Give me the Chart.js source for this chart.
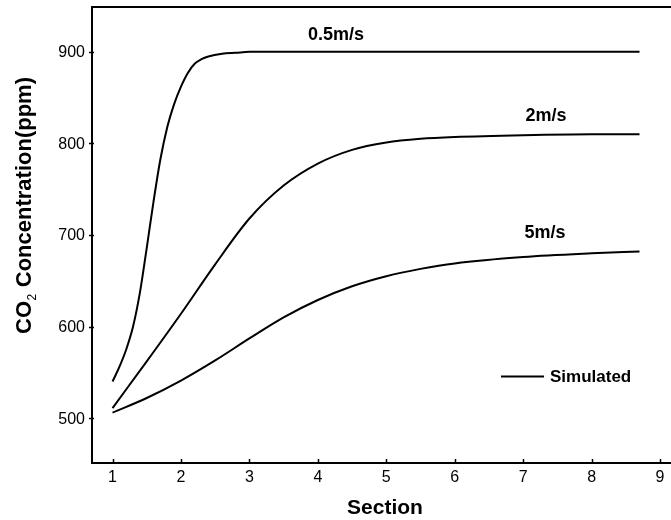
<!DOCTYPE html>
<html>
<head>
<meta charset="utf-8">
<script src="https://cdn.jsdelivr.net/npm/chart.js@4/dist/chart.umd.min.js"></script>
<style>
  html, body { margin: 0; padding: 0; background: #fff; }
  #wrap { width: 671px; height: 520px; position: relative; }
</style>
</head>
<body>
<div id="wrap"><canvas id="c" width="671" height="520"></canvas></div>
<script>
// ---- data ----
const seriesNames = ['0.5m/s', '2m/s', '5m/s'];
const x05 = [1, 1.1, 1.2, 1.3, 1.4, 1.5, 1.6, 1.7, 1.8, 1.9, 2.0, 2.1, 2.2, 2.3, 2.4, 2.6, 2.8, 3.0, 4, 5, 6, 7, 8, 8.7];
const y05 = [540, 556, 575, 600, 637, 686, 737, 783, 818, 843, 862, 877, 887, 892, 895, 898, 899, 900, 900, 900, 900, 900, 900, 900];
const x2 = [1, 1.5, 2, 2.5, 3, 3.5, 4, 4.5, 5, 5.5, 6, 7, 8, 8.7];
const y2 = [511, 562, 614, 668, 718, 754, 778, 793, 801, 805, 807, 809, 810, 810];
const x5 = [1, 1.5, 2, 2.5, 3, 3.5, 4, 4.5, 5, 5.5, 6, 7, 8, 8.7];
const y5 = [506, 522, 541, 563, 587, 610, 629, 644, 655, 663, 669, 676, 680, 682];
const xTicks = [1, 2, 3, 4, 5, 6, 7, 8, 9];
const yTicks = [500, 600, 700, 800, 900];
const legendLabel = 'Simulated';
const xTitle = 'Section';

function pts(xs, ys) { return xs.map((x, i) => ({ x: x, y: ys[i] })); }

const FONT = '"Liberation Sans", Arial, sans-serif';

const decor = {
  id: 'decor',
  afterDraw(chart) {
    const ctx = chart.ctx;
    const xs = chart.scales.x, ys = chart.scales.y;
    const area = chart.chartArea;
    ctx.save();
    ctx.strokeStyle = '#000';
    ctx.fillStyle = '#000';
    ctx.lineWidth = 2;
    // axes lines (left, bottom, top)
    ctx.beginPath();
    ctx.moveTo(area.left, area.top); ctx.lineTo(area.left, area.bottom);
    ctx.moveTo(area.left - 1, area.bottom); ctx.lineTo(chart.width, area.bottom);
    ctx.moveTo(area.left - 1, area.top); ctx.lineTo(chart.width, area.top);
    ctx.stroke();
    // ticks
    ctx.lineWidth = 1.5;
    ctx.beginPath();
    xTicks.forEach(v => {
      const p = Math.round(xs.getPixelForValue(v)) + 0.5;
      ctx.moveTo(p, area.bottom); ctx.lineTo(p, area.bottom - 4);
    });
    yTicks.forEach(v => {
      const p = Math.round(ys.getPixelForValue(v)) + 0.5;
      ctx.moveTo(area.left - 3, p); ctx.lineTo(area.left + 2, p);
    });
    ctx.stroke();
    // tick labels
    ctx.font = '16px ' + FONT;
    ctx.textAlign = 'center'; ctx.textBaseline = 'top';
    xTicks.forEach(v => ctx.fillText(String(v), xs.getPixelForValue(v), area.bottom + 7));
    ctx.textAlign = 'right'; ctx.textBaseline = 'middle';
    yTicks.forEach(v => ctx.fillText(String(v), area.left - 7, ys.getPixelForValue(v) + 1));
    // x title
    ctx.font = 'bold 21px ' + FONT;
    ctx.textAlign = 'center'; ctx.textBaseline = 'middle';
    ctx.fillText(xTitle, 385, 508);
    // y title with subscript
    ctx.save();
    ctx.translate(31, 334);
    ctx.rotate(-Math.PI / 2);
    ctx.textAlign = 'left'; ctx.textBaseline = 'alphabetic';
    ctx.font = 'bold 22px ' + FONT;
    ctx.fillText('CO', 0, 0);
    let w = ctx.measureText('CO').width;
    ctx.font = '12px ' + FONT;
    ctx.fillText('2', w + 0.5, 5);
    w += ctx.measureText('2').width + 1;
    ctx.font = 'bold 22px ' + FONT;
    ctx.fillText(' Concentration(ppm)', w, 0);
    ctx.restore();
    // series labels
    ctx.font = 'bold 18px ' + FONT;
    ctx.textAlign = 'center'; ctx.textBaseline = 'middle';
    ctx.fillText(seriesNames[0], 336, 35);
    ctx.fillText(seriesNames[1], 546, 116);
    ctx.fillText(seriesNames[2], 545, 233);
    // legend
    ctx.lineWidth = 2;
    ctx.beginPath(); ctx.moveTo(501, 376.5); ctx.lineTo(544, 376.5); ctx.stroke();
    ctx.font = 'bold 17px ' + FONT;
    ctx.textAlign = 'left';
    ctx.fillText(legendLabel, 550, 377);
    ctx.restore();
  }
};

const ds = (label, data) => ({
  label: label,
  data: data,
  borderColor: '#000',
  borderWidth: 2,
  pointRadius: 0,
  fill: false,
  cubicInterpolationMode: 'monotone'
});

new Chart(document.getElementById('c'), {
  type: 'line',
  data: {
    datasets: [
      ds(seriesNames[0], pts(x05, y05)),
      ds(seriesNames[1], pts(x2, y2)),
      ds(seriesNames[2], pts(x5, y5))
    ]
  },
  options: {
    responsive: false,
    animation: false,
    layout: { padding: { top: 7, right: 0, left: 0, bottom: 0 } },
    plugins: { legend: { display: false }, tooltip: { enabled: false } },
    scales: {
      x: {
        type: 'linear', min: 0.7, max: 9.16,
        grid: { display: false }, border: { display: false },
        ticks: { display: false },
        afterBuildTicks: s => { s.ticks = xTicks.map(v => ({ value: v })); },
        afterFit: s => { s.height = 57; }
      },
      y: {
        type: 'linear', min: 451, max: 949,
        grid: { display: false }, border: { display: false },
        ticks: { display: false },
        afterBuildTicks: s => { s.ticks = yTicks.map(v => ({ value: v })); },
        afterFit: s => { s.width = 92; }
      }
    }
  },
  plugins: [decor]
});
</script>
</body>
</html>
